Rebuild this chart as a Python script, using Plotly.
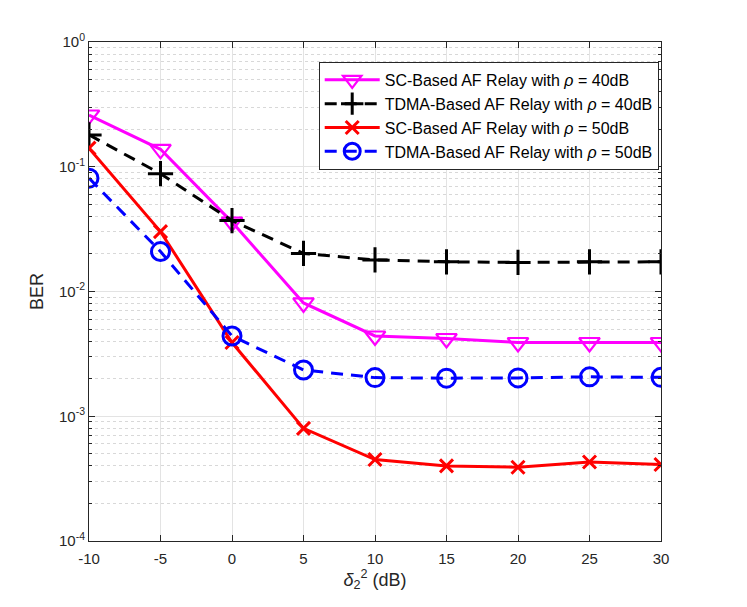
import plotly.graph_objects as go

# x axis values (dB)
delta_db = [-10, -5, 0, 5, 10, 15, 20, 25, 30]

# BER
ber_sc_40 = [0.26, 0.138, 0.036, 0.0081, 0.0044, 0.0042, 0.0039, 0.0039, 0.0039]
ber_tdma_40 = [0.18, 0.088, 0.037, 0.0202, 0.0179, 0.0173, 0.0171, 0.0173, 0.0173]
ber_sc_50 = [0.141, 0.0302, 0.0039, 0.0008, 0.00045, 0.0004, 0.00039, 0.00043, 0.00041]
ber_tdma_50 = [0.081, 0.0209, 0.0044, 0.00235, 0.00204, 0.00202, 0.00203, 0.00207, 0.00205]

names = [
    'SC-Based AF Relay with <i>ρ</i> = 40dB',
    'TDMA-Based AF Relay with <i>ρ</i> = 40dB',
    'SC-Based AF Relay with <i>ρ</i> = 50dB',
    'TDMA-Based AF Relay with <i>ρ</i> = 50dB',
]

y_ticks = [1e-4, 1e-3, 1e-2, 1e-1, 1]
y_tick_text = ['10<sup>-4</sup>', '10<sup>-3</sup>', '10<sup>-2</sup>', '10<sup>-1</sup>', '10<sup>0</sup>']
x_ticks = [-10, -5, 0, 5, 10, 15, 20, 25, 30]
x_tick_text = ['-10', '-5', '0', '5', '10', '15', '20', '25', '30']

# minor log ticks 2..9 for each decade
minor_vals = [k * 10 ** e for e in range(-4, 0) for k in range(2, 10)]

fig = go.Figure()

fig.add_trace(go.Scatter(
    x = delta_db, y = ber_sc_40, name = names[0], mode = 'lines+markers',
    line = dict(color = '#FF00FF', width = 3),
    marker = dict(symbol = 'triangle-down-open', size = 18, line = dict(width = 2.2, color = '#FF00FF'))
))
fig.add_trace(go.Scatter(
    x = delta_db, y = ber_tdma_40, name = names[1], mode = 'lines+markers',
    line = dict(color = 'black', width = 3, dash = '12px,8px'),
    marker = dict(symbol = 'cross-thin-open', size = 18, line = dict(width = 3, color = 'black'))
))
fig.add_trace(go.Scatter(
    x = delta_db, y = ber_sc_50, name = names[2], mode = 'lines+markers',
    line = dict(color = '#FF0000', width = 3),
    marker = dict(symbol = 'x-thin-open', size = 13, line = dict(width = 3, color = '#FF0000'))
))
fig.add_trace(go.Scatter(
    x = delta_db, y = ber_tdma_50, name = names[3], mode = 'lines+markers',
    line = dict(color = '#0000FF', width = 3, dash = '12px,8px'),
    marker = dict(symbol = 'circle-open', size = 18, line = dict(width = 3, color = '#0000FF'))
))

# page body has an 8px margin, so the figure is shrunk by that much
fig.update_layout(
    width = 739, height = 599,
    margin = dict(l = 81, r = 86, t = 34, b = 66),
    paper_bgcolor = 'white', plot_bgcolor = 'white',
    font = dict(family = 'Liberation Sans, Arial, sans-serif', size = 15, color = '#262626'),
    legend = dict(
        x = 0.996, y = 0.96, xanchor = 'right', yanchor = 'top',
        bgcolor = 'white', bordercolor = '#262626', borderwidth = 1,
        font = dict(size = 16, color = 'black'),
        tracegroupgap = 0, itemwidth = 55,
    ),
    showlegend = True,
)

fig.update_xaxes(
    range = [-10, 30], tickvals = x_ticks, ticktext = x_tick_text,
    ticks = 'inside', ticklen = 6, tickcolor = '#262626', ticklabelstandoff = 4,
    showline = True, linecolor = '#262626', linewidth = 1, mirror = 'allticks',
    showgrid = True, gridcolor = '#E3E3E3', gridwidth = 1,
    zeroline = False,
    title = dict(text = '<i>δ</i><sub>2</sub><sup>2</sup> (dB)', standoff = 6),
)

fig.update_yaxes(
    type = 'log', range = [-4, 0],
    tickvals = y_ticks, ticktext = y_tick_text,
    ticks = 'inside', ticklen = 6, tickcolor = '#262626',
    showline = True, linecolor = '#262626', linewidth = 1, mirror = 'allticks',
    showgrid = True, gridcolor = '#E3E3E3', gridwidth = 1,
    zeroline = False,
    minor = dict(tickvals = minor_vals, ticks = 'inside', ticklen = 3, tickcolor = '#262626',
                 showgrid = True, gridcolor = '#D8D8D8', griddash = 'dot', gridwidth = 1),
    title = dict(text = 'BER', standoff = 10),
)

fig.write_html("out.html")
